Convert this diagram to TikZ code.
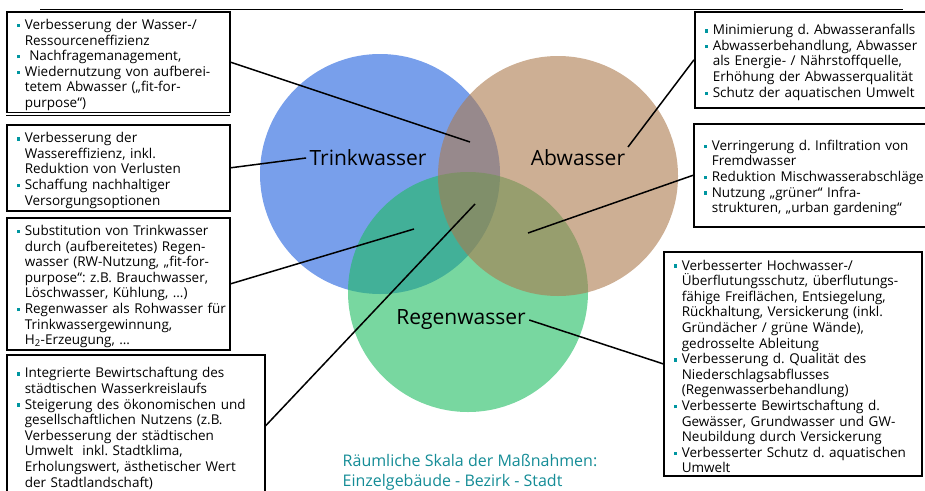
\documentclass[tikz,border=0pt]{standalone}
\usepackage{fontspec}
\setmainfont{Open Sans}
\usetikzlibrary{positioning}

\definecolor{trinkblue}{RGB}{30,95,222}
\definecolor{abbrown}{RGB}{172,122,77}
\definecolor{regengreen}{RGB}{30,188,97}
\definecolor{bullteal}{RGB}{0,150,160}
\definecolor{skalateal}{RGB}{20,140,150}

\frenchspacing
\newcommand{\bul}{\makebox[8pt][l]{\textcolor{bullteal}{\rule[0.3ex]{3.5pt}{3.5pt}}}}
% one line with bullet, one continuation line
\newcommand{\itm}[1]{\par\noindent\bul\mbox{#1}}
\newcommand{\cnt}[1]{\par\noindent\hspace*{8pt}\mbox{#1}}

\tikzset{
  box/.style={draw, line width=1.6pt, fill=white, anchor=north west,
    inner xsep=10pt, inner ysep=2pt, align=left,
    font=\fontsize{13.5}{15.6}\selectfont},
  circ/.style={fill opacity=0.6},
  lbl/.style={font=\fontsize{21}{24}\selectfont},
  link/.style={line width=1.5pt},
}

\begin{document}
\begin{tikzpicture}[x=1pt, y=-1pt]
	\useasboundingbox (0,0) rectangle (925,490);
	
	% circles
	\fill[circ, trinkblue] (380,174) circle[radius=120pt];
	\fill[circ, regengreen] (468,292) circle[radius=120pt];
	\fill[circ, abbrown] (558,176) circle[radius=120pt];
	
	\node[lbl] (trink) at (368,158) {Trinkwasser};
	\node[lbl] (abw) at (578,158) {Abwasser};
	\node[lbl] (regen) at (461,320) {Regenwasser};
	
	\coordinate (ovTA) at (470,142);
	\coordinate (ovTR) at (414,229);
	\coordinate (ovMid) at (475,204);
	\coordinate (ovAR) at (528,233);
	\coordinate (abwEnd) at (628,147);
	
	% left boxes
	\node[box, text width=203pt, minimum height=96pt] (ressource) at (6,11) {%
		\itm{Verbesserung der Wasser-/}\cnt{Ressourceneffizienz}
		\itm{\ Nachfragemanagement,}
		\itm{Wiedernutzung von aufberei-}\cnt{tetem Abwasser („fit-for-}\cnt{purpose“)}};
	\node[box, text width=203pt, minimum height=86pt] (effizienz) at (6,124) {%
		\itm{Verbesserung der}\cnt{Wassereffizienz, inkl.}\cnt{Reduktion von Verlusten}
		\itm{Schaffung nachhaltiger}\cnt{Versorgungsoptionen}};
	\node[box, text width=203pt, minimum height=129pt] (substitution) at (6,217) {%
		\itm{Substitution von Trinkwasser}\cnt{durch (aufbereitetes) Regen-}\cnt{wasser (RW-Nutzung, „fit-for-}\cnt{purpose“: z.B. Brauchwasser,}\cnt{Löschwasser, Kühlung, …)}
		\itm{Regenwasser als Rohwasser für}\cnt{Trinkwassergewinnung,}\cnt{H\textsubscript{2}-Erzeugung, …}};
	\node[box, text width=238pt, minimum height=142pt] (bewirtschaftung) at (6,354) {%
		\itm{Integrierte Bewirtschaftung des}\cnt{städtischen Wasserkreislaufs}
		\itm{Steigerung des ökonomischen und}\cnt{gesellschaftlichen Nutzens (z.B.}\cnt{Verbesserung der städtischen}\cnt{Umwelt\ \ inkl. Stadtklima,}\cnt{Erholungswert, ästhetischer Wert}\cnt{der Stadtlandschaft)}};
	
	% right boxes
	\node[box, text width=212pt, minimum height=96pt] (abwanfall) at (694,11) {%
		\itm{Minimierung d. Abwasseranfalls}
		\itm{Abwasserbehandlung, Abwasser}\cnt{als Energie- / Nährstoffquelle,}\cnt{Erhöhung der Abwasserqualität}
		\itm{Schutz der aquatischen Umwelt}};
	\node[box, text width=212pt, minimum height=103pt] (infiltration) at (693,123) {%
		\itm{Verringerung d. Infiltration von}\cnt{Fremdwasser}
		\itm{Reduktion Mischwasserabschläge}
		\itm{Nutzung „grüner“ Infra-}\cnt{strukturen, „urban gardening“}};
	\node[box, text width=238pt, minimum height=224pt] (hochwasser) at (663,251) {%
		\itm{Verbesserter Hochwasser-/}\cnt{Überflutungsschutz, überflutungs-}\cnt{fähige Freiflächen, Entsiegelung,}\cnt{Rückhaltung, Versickerung (inkl.}\cnt{Gründächer / grüne Wände),}\cnt{gedrosselte Ableitung}
		\itm{Verbesserung d. Qualität des}\cnt{Niederschlagsabflusses}\cnt{(Regenwasserbehandlung)}
		\itm{Verbesserte Bewirtschaftung d.}\cnt{Gewässer, Grundwasser und GW-}\cnt{Neubildung durch Versickerung}
		\itm{Verbesserter Schutz d. aquatischen}\cnt{Umwelt}};
	
	% stray slide lines
	\draw[line width=0.8pt] (40,9) -- (903,9);
	\draw[line width=0.8pt] (6,115) -- (230,115);
	
	% connectors
	\draw[link] (ressource.east) -- (ovTA);
	\draw[link] (effizienz.east) -- (trink.west);
	\draw[link] (substitution.east) -- (ovTR);
	\draw[link] (bewirtschaftung.east) -- (ovMid);
	\draw[link] (abwanfall.west) -- (abwEnd);
	\draw[link] (infiltration.west) -- (ovAR);
	\draw[link] (hochwasser.west) -- (regen.east);
	
	\node[align=left, text=skalateal, font=\fontsize{16}{20}\selectfont] (skala) at (470,472)
		{Räumliche Skala der Maßnahmen:\\Einzelgebäude - Bezirk - Stadt};
\end{tikzpicture}
\end{document}
